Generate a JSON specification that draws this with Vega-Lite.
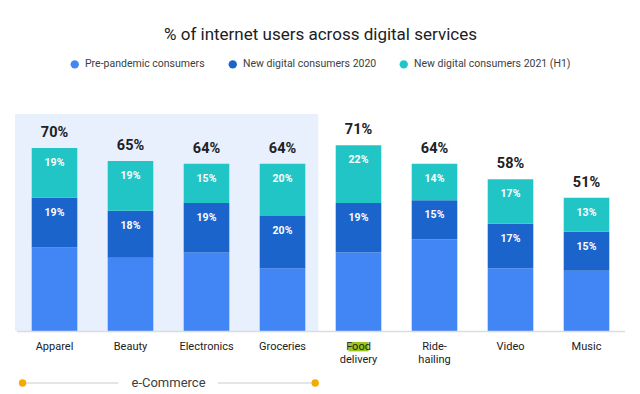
{
  "$schema": "https://vega.github.io/schema/vega-lite/v6.json",
  "width": 608,
  "height": 217,
  "autosize": {"type": "none"},
  "padding": {"left": 16.5, "top": 114, "right": 15.5, "bottom": 63},
  "background": "white",
  "title": {
    "text": "% of internet users across digital services",
    "anchor": "middle",
    "frame": "group",
    "font": "Roboto",
    "fontSize": 17,
    "fontWeight": "normal",
    "color": "#202124",
    "offset": 15
  },
  "config": {"view": {"stroke": null}, "font": "Roboto"},
  "datasets": {
    "services": [
      {"category": "Apparel", "base": 0.32, "new2020": 0.19, "new2021": 0.19, "total": 0.70},
      {"category": "Beauty", "base": 0.28, "new2020": 0.18, "new2021": 0.19, "total": 0.65},
      {"category": "Electronics", "base": 0.30, "new2020": 0.19, "new2021": 0.15, "total": 0.64},
      {"category": "Groceries", "base": 0.24, "new2020": 0.20, "new2021": 0.20, "total": 0.64},
      {"category": "Food delivery", "base": 0.30, "new2020": 0.19, "new2021": 0.22, "total": 0.71},
      {"category": "Ride-hailing", "base": 0.35, "new2020": 0.15, "new2021": 0.14, "total": 0.64},
      {"category": "Video", "base": 0.24, "new2020": 0.17, "new2021": 0.17, "total": 0.58},
      {"category": "Music", "base": 0.23, "new2020": 0.15, "new2021": 0.13, "total": 0.51}
    ],
    "group": [
      {"label": "e-Commerce", "start": -0.02, "end": 3.97, "mid": 2.0}
    ],
    "bracketDots": [
      {"pos": 0.08},
      {"pos": 3.93}
    ],
    "bracketLines": [
      {"start": 0.11, "end": 1.34},
      {"start": 2.65, "end": 3.89}
    ],
    "highlight": [
      {"start": 4.368, "end": 4.632}
    ]
  },
  "resolve": {"scale": {"x": "independent"}, "axis": {"x": "independent"}},
  "layer": [
    {
      "layer": [
        {
          "data": {"name": "group"},
          "mark": {"type": "rect", "color": "#E8F0FE"},
          "encoding": {
            "x": {"field": "start", "type": "quantitative", "scale": {"domain": [0, 8], "nice": false, "zero": false}, "axis": null},
            "x2": {"field": "end"},
            "y": {"datum": 0, "type": "quantitative", "scale": {"domain": [0, 0.83], "nice": false}, "axis": null},
            "y2": {"datum": 0.83}
          }
        },
        {
          "data": {"name": "highlight"},
          "mark": {"type": "rect", "color": "#9CC61A"},
          "encoding": {
            "x": {"field": "start", "type": "quantitative", "scale": {"domain": [0, 8], "nice": false, "zero": false}, "axis": null},
            "x2": {"field": "end"},
            "y": {"datum": -0.042, "type": "quantitative", "scale": {"domain": [0, 0.83], "nice": false}, "axis": null},
            "y2": {"datum": -0.078}
          }
        },
        {
          "data": {"name": "bracketLines"},
          "mark": {"type": "rule", "color": "#DADCE0", "strokeWidth": 1.5},
          "encoding": {
            "x": {"field": "start", "type": "quantitative", "scale": {"domain": [0, 8], "nice": false, "zero": false}, "axis": null},
            "x2": {"field": "end"},
            "y": {"datum": -0.199, "type": "quantitative", "scale": {"domain": [0, 0.83], "nice": false}, "axis": null}
          }
        },
        {
          "data": {"name": "bracketDots"},
          "mark": {"type": "point", "filled": true, "color": "#F5AA00", "size": 55, "opacity": 1},
          "encoding": {
            "x": {"field": "pos", "type": "quantitative", "scale": {"domain": [0, 8], "nice": false, "zero": false}, "axis": null},
            "y": {"datum": -0.199, "type": "quantitative", "scale": {"domain": [0, 0.83], "nice": false}, "axis": null}
          }
        },
        {
          "data": {"name": "group"},
          "mark": {"type": "text", "font": "Roboto", "fontSize": 13, "color": "#3C4043", "baseline": "middle", "align": "center"},
          "encoding": {
            "x": {"field": "mid", "type": "quantitative", "scale": {"domain": [0, 8], "nice": false, "zero": false}, "axis": null},
            "y": {"datum": -0.199, "type": "quantitative", "scale": {"domain": [0, 0.83], "nice": false}, "axis": null},
            "text": {"field": "label"}
          }
        }
      ]
    },
    {
      "data": {"name": "services"},
      "encoding": {
        "x": {
          "field": "category", "type": "nominal", "sort": null,
          "scale": {"type": "band", "paddingInner": 0.4, "paddingOuter": 0.2},
          "axis": {
            "title": null, "labelAngle": 0, "labelFont": "Roboto", "labelFontSize": 11,
            "labelColor": "#202124", "labelPadding": 9, "ticks": false,
            "domainColor": "#DADCE0", "domainWidth": 1.5, "labelLineHeight": 13, "zindex": 1,
            "labelExpr": "datum.label == 'Food delivery' ? ['Food', 'delivery'] : datum.label == 'Ride-hailing' ? ['Ride-', 'hailing'] : datum.label"
          }
        }
      },
      "layer": [
        {
          "transform": [
            {"fold": ["base", "new2020", "new2021"], "as": ["segment", "value"]},
            {"stack": "value", "groupby": ["category"], "sort": [{"field": "segment", "order": "ascending"}], "as": ["v0", "v1"]}
          ],
          "mark": {"type": "bar"},
          "encoding": {
            "y": {"field": "v1", "type": "quantitative", "scale": {"domain": [0, 0.83], "nice": false}, "axis": null},
            "y2": {"field": "v0"},
            "color": {
              "field": "segment", "type": "nominal",
              "scale": {"domain": ["base", "new2020", "new2021"], "range": ["#4285F4", "#1A64CB", "#22C5C6"]},
              "legend": {
                "orient": "none", "legendX": 53, "legendY": -55, "direction": "horizontal",
                "title": null, "symbolType": "circle", "symbolSize": 70, "symbolStrokeWidth": 0,
                "labelFont": "Roboto", "labelFontSize": 10.5, "labelColor": "#3C4043",
                "labelOffset": 5, "columnPadding": 22, "padding": 0, "labelLimit": 300,
                "labelExpr": "datum.label == 'base' ? 'Pre-pandemic consumers' : datum.label == 'new2020' ? 'New digital consumers 2020' : 'New digital consumers 2021 (H1)'"
              }
            }
          }
        },
        {
          "transform": [
            {"fold": ["base", "new2020", "new2021"], "as": ["segment", "value"]},
            {"stack": "value", "groupby": ["category"], "sort": [{"field": "segment", "order": "ascending"}], "as": ["v0", "v1"]},
            {"filter": "datum.segment != 'base'"}
          ],
          "mark": {"type": "text", "font": "Roboto", "fontSize": 10.5, "fontWeight": "bold", "color": "white", "baseline": "middle", "dy": 15},
          "encoding": {
            "y": {"field": "v1", "type": "quantitative", "scale": {"domain": [0, 0.83], "nice": false}, "axis": null},
            "text": {"field": "value", "type": "quantitative", "format": ".0%"}
          }
        },
        {
          "mark": {"type": "text", "font": "Roboto", "fontSize": 14.5, "fontWeight": "bold", "color": "#202124", "baseline": "middle", "dy": -15},
          "encoding": {
            "y": {"field": "total", "type": "quantitative", "scale": {"domain": [0, 0.83], "nice": false}, "axis": null},
            "text": {"field": "total", "type": "quantitative", "format": ".0%"}
          }
        }
      ]
    }
  ]
}
